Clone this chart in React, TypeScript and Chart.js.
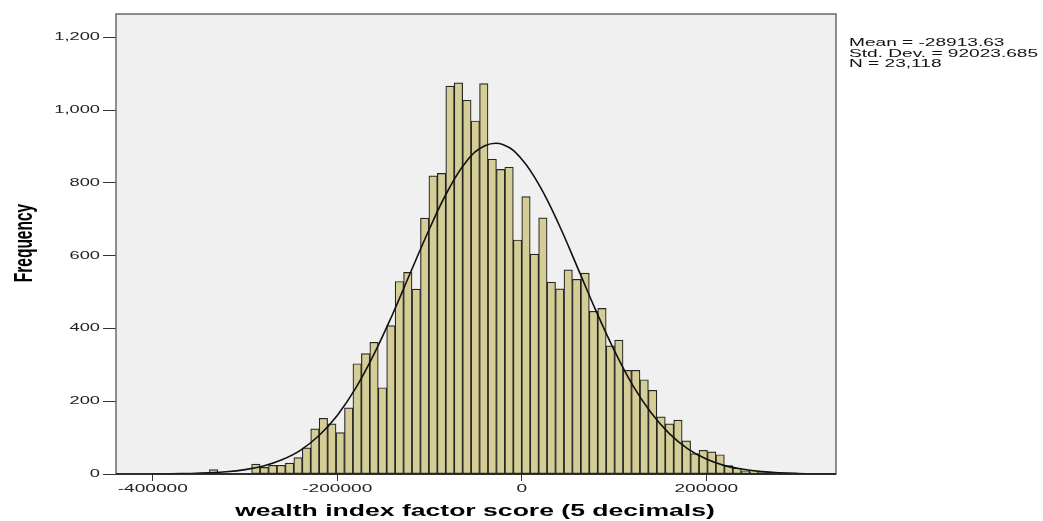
import React, { useEffect, useRef } from "react";
import { Chart, registerables } from "chart.js";

Chart.register(...registerables);

// ---- data ----
const binWidth = 9150;
const firstBinStart = -338550;
const frequencies = [
  12, 0, 0, 0, 0,
  27, 18, 24, 24, 30, 45, 72, 124, 153, 138, 114, 182, 303, 331, 362, 237,
  408, 529, 554, 508, 703, 819, 826, 1066, 1075, 1027, 970, 1073, 865, 837,
  843, 643, 762, 604, 704, 527, 509, 561, 535, 552, 447, 455, 352, 368, 285,
  285, 259, 230, 157, 138, 148, 91, 56, 65, 61, 53, 23, 16, 9, 6, 4, 3,
];

const curveX = [
  -400000, -380000, -360000, -340000, -320000, -300000, -280000, -260000,
  -240000, -220000, -200000, -180000, -160000, -140000, -120000, -100000,
  -80000, -60000, -40000, -20000, 0, 20000, 40000, 60000, 80000, 100000,
  120000, 140000, 160000, 180000, 200000, 220000, 240000, 260000, 280000,
  300000, 320000, 340000,
];
const curveY = [
  0.3, 0.6, 1.4, 3, 6, 12, 22, 39, 65, 105, 161, 236, 330, 439, 557, 674,
  779, 859, 902, 905, 865, 789, 687, 570, 451, 341, 245, 169, 111, 69, 41,
  23, 13, 6.6, 3.2, 1.5, 0.7, 0.3,
];

const yTickValues = [0, 200, 400, 600, 800, 1000, 1200];
const xTickValues = [-400000, -200000, 0, 200000];

const statsLines = ["Mean = -28913.63", "Std. Dev. = 92023.685", "N = 23,118"];
const xTitle = "wealth index factor score (5 decimals)";
const yTitle = "Frequency";

const X_MIN = -439800;
const X_MAX = 340600;
const Y_MAX = 1264;

const FONT = "'Liberation Sans', Arial, sans-serif";
const SX = 1.66;

function stretchedText(
  ctx: CanvasRenderingContext2D,
  text: string,
  x: number,
  y: number,
  font: string,
  align: CanvasTextAlign,
  baseline: CanvasTextBaseline,
  color: string,
  rotate = false
) {
  ctx.save();
  ctx.translate(x, y);
  ctx.scale(SX, 1);
  if (rotate) ctx.rotate(-Math.PI / 2);
  ctx.font = font;
  ctx.textAlign = align;
  ctx.textBaseline = baseline;
  ctx.fillStyle = color;
  ctx.fillText(text, 0, 0);
  ctx.restore();
}

const framePlugin = {
  id: "framePlugin",
  beforeDraw(chart: any) {
    const { ctx, chartArea: a, width, height } = chart;
    ctx.save();
    ctx.fillStyle = "#ffffff";
    ctx.fillRect(0, 0, width, height);
    ctx.fillStyle = "#F0F0F0";
    ctx.fillRect(a.left, a.top, a.right - a.left, a.bottom - a.top);
    ctx.restore();
  },
  afterDraw(chart: any) {
    const { ctx, chartArea: a } = chart;
    ctx.save();
    ctx.strokeStyle = "#6a6a6a";
    ctx.lineWidth = 1.5;
    ctx.strokeRect(a.left, a.top, a.right - a.left, a.bottom - a.top);
    ctx.strokeStyle = "#111";
    ctx.lineWidth = 1.5;
    ctx.beginPath();
    ctx.moveTo(a.left, a.bottom);
    ctx.lineTo(a.right, a.bottom);
    ctx.stroke();
    ctx.restore();

    const xs = chart.scales.x;
    const ys = chart.scales.y;
    xs.ticks.forEach((t: any) => {
      stretchedText(ctx, String(t.value), xs.getPixelForValue(t.value), 489,
        `11.5px ${FONT}`, "center", "middle", "#222");
    });
    ys.ticks.forEach((t: any) => {
      stretchedText(ctx, Number(t.value).toLocaleString("en-US"), 100,
        ys.getPixelForValue(t.value), `11px ${FONT}`, "right", "middle", "#222");
    });
    stretchedText(ctx, xTitle, (a.left + a.right) / 2 - 1, 512,
      `bold 16px ${FONT}`, "center", "middle", "#000");
    stretchedText(ctx, yTitle, 25, 243, `bold 15.5px ${FONT}`, "center", "middle", "#000", true);
    statsLines.forEach((s, i) => {
      stretchedText(ctx, s, 849, 46 + i * 10.7, `11.5px ${FONT}`, "left", "alphabetic", "#111");
    });
  },
};

export default function App() {
  const ref = useRef<HTMLCanvasElement | null>(null);

  useEffect(() => {
    document.body.style.margin = "0";
    const canvas = ref.current;
    if (!canvas) return;

    const bars = frequencies.map((f, i) => ({
      x: firstBinStart + (i + 0.5) * binWidth,
      y: f,
    }));
    const curve = curveX.map((x, i) => ({ x, y: curveY[i] }));

    const chart = new Chart(canvas, {
      type: "bar",
      data: {
        datasets: [
          {
            type: "line",
            data: curve,
            borderColor: "#111",
            borderWidth: 1.6,
            pointRadius: 0,
            tension: 0.4,
            fill: false,
            order: 0,
          } as any,
          {
            type: "bar",
            data: bars,
            backgroundColor: "#D4CE96",
            borderColor: "#262626",
            borderWidth: 1.2,
            borderSkipped: false,
            barPercentage: 1,
            categoryPercentage: 1,
            grouped: false,
            order: 1,
          } as any,
        ],
      },
      options: {
        animation: false,
        responsive: false,
        devicePixelRatio: 1,
        layout: { padding: { left: 0, top: 14, right: 207, bottom: 0 } },
        plugins: { legend: { display: false }, tooltip: { enabled: false } },
        scales: {
          x: {
            type: "linear",
            min: X_MIN,
            max: X_MAX,
            offset: false,
            ticks: { display: false },
            afterBuildTicks: (s: any) => {
              s.ticks = xTickValues.map((v) => ({ value: v }));
            },
            grid: {
              display: true,
              offset: false,
              drawOnChartArea: false,
              drawTicks: true,
              tickLength: 7,
              color: "#333",
              lineWidth: 1,
            },
            border: { display: false },
            afterFit: (s: any) => {
              s.height = 47;
            },
          },
          y: {
            type: "linear",
            min: 0,
            max: Y_MAX,
            ticks: { display: false },
            afterBuildTicks: (s: any) => {
              s.ticks = yTickValues.map((v) => ({ value: v }));
            },
            grid: {
              display: true,
              drawOnChartArea: false,
              drawTicks: true,
              tickLength: 13,
              color: "#333",
              lineWidth: 1,
            },
            border: { display: false },
            afterFit: (s: any) => {
              s.width = 116;
            },
          },
        },
      } as any,
      plugins: [framePlugin],
    });

    return () => chart.destroy();
  }, []);

  return (
    <canvas
      ref={ref}
      width={1043}
      height={521}
      style={{ display: "block", width: 1043, height: 521 }}
    />
  );
}
